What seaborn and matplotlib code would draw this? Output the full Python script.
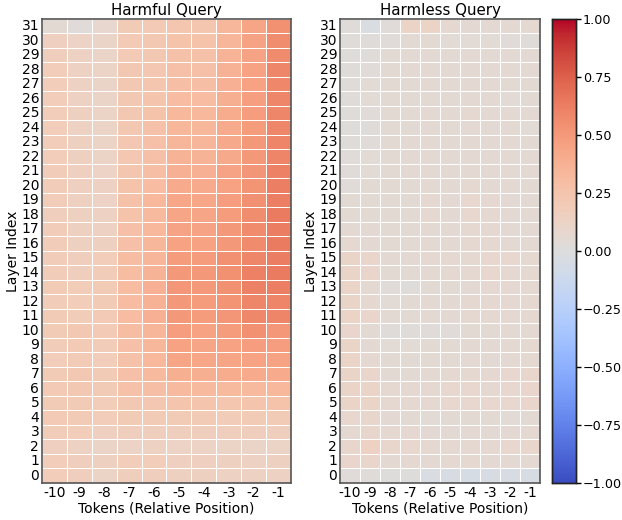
import matplotlib
matplotlib.use('Agg')
import matplotlib.pyplot as plt
import numpy as np
import pandas as pd
import seaborn as sns

tokens = [-10, -9, -8, -7, -6, -5, -4, -3, -2, -1]
layers = list(range(32))

# rows = layer 0..31, columns = tokens -10..-1
harmful = [
    [0.18, 0.17, 0.12, 0.17, 0.17, 0.15, 0.15, 0.14, 0.14, 0.14],
    [0.18, 0.17, 0.15, 0.18, 0.18, 0.16, 0.16, 0.15, 0.14, 0.15],
    [0.16, 0.14, 0.11, 0.13, 0.14, 0.13, 0.13, 0.12, 0.11, 0.12],
    [0.19, 0.18, 0.16, 0.17, 0.17, 0.17, 0.17, 0.17, 0.17, 0.17],
    [0.21, 0.20, 0.18, 0.20, 0.20, 0.20, 0.20, 0.19, 0.20, 0.20],
    [0.20, 0.20, 0.18, 0.22, 0.23, 0.25, 0.25, 0.24, 0.25, 0.26],
    [0.21, 0.22, 0.20, 0.27, 0.29, 0.32, 0.32, 0.32, 0.32, 0.33],
    [0.20, 0.22, 0.20, 0.28, 0.32, 0.39, 0.39, 0.40, 0.41, 0.41],
    [0.18, 0.20, 0.18, 0.27, 0.33, 0.44, 0.43, 0.44, 0.46, 0.46],
    [0.19, 0.21, 0.19, 0.28, 0.34, 0.46, 0.44, 0.46, 0.48, 0.48],
    [0.20, 0.22, 0.21, 0.30, 0.35, 0.48, 0.46, 0.49, 0.54, 0.51],
    [0.20, 0.19, 0.21, 0.31, 0.38, 0.50, 0.49, 0.52, 0.58, 0.60],
    [0.19, 0.18, 0.20, 0.31, 0.37, 0.50, 0.49, 0.53, 0.59, 0.60],
    [0.20, 0.19, 0.20, 0.31, 0.38, 0.51, 0.50, 0.54, 0.61, 0.62],
    [0.19, 0.17, 0.19, 0.30, 0.36, 0.50, 0.50, 0.54, 0.61, 0.64],
    [0.19, 0.17, 0.18, 0.30, 0.35, 0.49, 0.49, 0.54, 0.59, 0.63],
    [0.19, 0.15, 0.15, 0.28, 0.34, 0.46, 0.46, 0.50, 0.57, 0.64],
    [0.19, 0.15, 0.14, 0.28, 0.33, 0.45, 0.45, 0.50, 0.57, 0.63],
    [0.17, 0.15, 0.14, 0.26, 0.32, 0.44, 0.44, 0.49, 0.56, 0.64],
    [0.19, 0.15, 0.13, 0.27, 0.33, 0.43, 0.43, 0.48, 0.54, 0.62],
    [0.19, 0.16, 0.14, 0.26, 0.31, 0.41, 0.41, 0.46, 0.53, 0.62],
    [0.19, 0.16, 0.13, 0.24, 0.29, 0.38, 0.38, 0.45, 0.52, 0.61],
    [0.18, 0.15, 0.12, 0.23, 0.28, 0.36, 0.36, 0.42, 0.50, 0.60],
    [0.18, 0.15, 0.12, 0.23, 0.28, 0.35, 0.35, 0.42, 0.50, 0.60],
    [0.18, 0.14, 0.12, 0.22, 0.27, 0.34, 0.34, 0.41, 0.49, 0.59],
    [0.18, 0.15, 0.12, 0.22, 0.26, 0.33, 0.33, 0.40, 0.48, 0.59],
    [0.18, 0.14, 0.11, 0.22, 0.25, 0.31, 0.31, 0.39, 0.47, 0.59],
    [0.18, 0.14, 0.11, 0.22, 0.24, 0.29, 0.29, 0.38, 0.46, 0.58],
    [0.18, 0.14, 0.12, 0.22, 0.23, 0.28, 0.28, 0.37, 0.46, 0.59],
    [0.17, 0.14, 0.11, 0.21, 0.22, 0.27, 0.27, 0.36, 0.45, 0.57],
    [0.16, 0.13, 0.11, 0.21, 0.22, 0.26, 0.26, 0.35, 0.45, 0.56],
    [0.05, 0.03, 0.08, 0.20, 0.21, 0.24, 0.24, 0.34, 0.44, 0.54],
]

harmless = [
    [0.03, 0.02, 0.01, 0.01, -0.03, -0.04, -0.05, -0.04, -0.04, -0.04],
    [0.10, 0.10, 0.06, 0.07, 0.06, 0.07, 0.07, 0.06, 0.06, 0.06],
    [0.09, 0.14, 0.09, 0.08, 0.07, 0.07, 0.07, 0.07, 0.08, 0.09],
    [0.07, 0.09, 0.07, 0.07, 0.06, 0.06, 0.06, 0.06, 0.06, 0.07],
    [0.08, 0.09, 0.06, 0.05, 0.04, 0.05, 0.05, 0.05, 0.04, 0.05],
    [0.11, 0.11, 0.07, 0.07, 0.07, 0.08, 0.08, 0.08, 0.08, 0.10],
    [0.11, 0.11, 0.07, 0.07, 0.07, 0.08, 0.08, 0.07, 0.08, 0.10],
    [0.11, 0.10, 0.05, 0.05, 0.06, 0.07, 0.07, 0.07, 0.08, 0.09],
    [0.11, 0.07, 0.05, 0.05, 0.05, 0.06, 0.06, 0.06, 0.06, 0.07],
    [0.11, 0.06, 0.04, 0.04, 0.05, 0.05, 0.06, 0.06, 0.06, 0.07],
    [0.10, 0.05, 0.02, 0.02, 0.03, 0.03, 0.05, 0.05, 0.06, 0.06],
    [0.12, 0.10, 0.05, 0.05, 0.06, 0.06, 0.07, 0.07, 0.07, 0.07],
    [0.11, 0.07, 0.04, 0.05, 0.06, 0.06, 0.07, 0.07, 0.07, 0.07],
    [0.11, 0.06, 0.03, 0.02, 0.05, 0.05, 0.06, 0.07, 0.07, 0.07],
    [0.11, 0.10, 0.05, 0.05, 0.06, 0.07, 0.07, 0.08, 0.07, 0.07],
    [0.11, 0.10, 0.06, 0.06, 0.07, 0.07, 0.07, 0.08, 0.08, 0.07],
    [0.07, 0.06, 0.05, 0.05, 0.06, 0.06, 0.07, 0.07, 0.06, 0.06],
    [0.06, 0.06, 0.05, 0.05, 0.06, 0.06, 0.07, 0.07, 0.06, 0.06],
    [0.05, 0.05, 0.05, 0.05, 0.07, 0.06, 0.08, 0.07, 0.06, 0.06],
    [0.05, 0.05, 0.05, 0.05, 0.07, 0.06, 0.08, 0.07, 0.06, 0.06],
    [0.03, 0.05, 0.05, 0.05, 0.06, 0.06, 0.07, 0.06, 0.06, 0.05],
    [0.03, 0.04, 0.05, 0.06, 0.06, 0.06, 0.06, 0.06, 0.06, 0.06],
    [0.03, 0.04, 0.05, 0.06, 0.06, 0.06, 0.06, 0.06, 0.06, 0.06],
    [0.02, 0.03, 0.05, 0.06, 0.06, 0.06, 0.06, 0.06, 0.06, 0.05],
    [0.02, 0.02, 0.05, 0.05, 0.06, 0.06, 0.06, 0.06, 0.06, 0.04],
    [0.02, 0.03, 0.05, 0.05, 0.06, 0.06, 0.07, 0.06, 0.06, 0.06],
    [0.02, 0.04, 0.05, 0.05, 0.05, 0.05, 0.06, 0.06, 0.04, 0.05],
    [0.02, 0.04, 0.05, 0.05, 0.06, 0.06, 0.06, 0.06, 0.05, 0.05],
    [0.02, 0.03, 0.05, 0.06, 0.06, 0.06, 0.06, 0.06, 0.06, 0.06],
    [0.02, 0.02, 0.05, 0.06, 0.06, 0.06, 0.06, 0.06, 0.06, 0.06],
    [0.02, 0.02, 0.03, 0.05, 0.05, 0.04, 0.04, 0.04, 0.03, 0.02],
    [0.02, -0.03, 0.03, 0.12, 0.12, 0.07, 0.06, 0.06, 0.06, 0.07],
]

df_harmful = pd.DataFrame(harmful, index=layers, columns=tokens).iloc[::-1]
df_harmless = pd.DataFrame(harmless, index=layers, columns=tokens).iloc[::-1]

plt.rcParams['font.family'] = ['DejaVu Sans']
plt.rcParams['font.size'] = 10

fig = plt.figure(figsize=(6.22, 5.2), dpi=100)
ax1 = fig.add_axes([0.0675, 0.0712, 0.4003, 0.8923])
ax2 = fig.add_axes([0.5466, 0.0712, 0.3215, 0.8923])
cax = fig.add_axes([0.8875, 0.0712, 0.0386, 0.8923])

sns.heatmap(df_harmful, ax=ax1, cmap='coolwarm', vmin=-1, vmax=1, cbar=False,
            linewidths=0.5, linecolor='white')
sns.heatmap(df_harmless, ax=ax2, cmap='coolwarm', vmin=-1, vmax=1, cbar=True, cbar_ax=cax,
            linewidths=0.5, linecolor='white')

for ax, title in [(ax1, 'Harmful Query'), (ax2, 'Harmless Query')]:
    ax.set_title(title, fontsize=10.8, pad=3)
    ax.set_xlabel('Tokens (Relative Position)', fontsize=10, labelpad=1)
    ax.set_ylabel('Layer Index', fontsize=10, labelpad=1)
    ax.tick_params(axis='both', length=0, pad=2, labelsize=10)
    ax.set_yticklabels(ax.get_yticklabels(), rotation=0)
    ax.set_xticklabels(ax.get_xticklabels(), rotation=0)
    for s in ax.spines.values():
        s.set_visible(True)
        s.set_color('#555555')
        s.set_linewidth(1.2)

cax.set_yticks([-1, -0.75, -0.5, -0.25, 0, 0.25, 0.5, 0.75, 1])
cax.set_yticklabels(['\u22121.00', '\u22120.75', '\u22120.50', '\u22120.25', '0.00', '0.25', '0.50', '0.75', '1.00'])
cax.tick_params(length=3.5, width=1, pad=1.5, labelsize=9.2)
for s in cax.spines.values():
    s.set_visible(True)
    s.set_color('#222222')
    s.set_linewidth(1)

fig.savefig('out.png', dpi=100)
